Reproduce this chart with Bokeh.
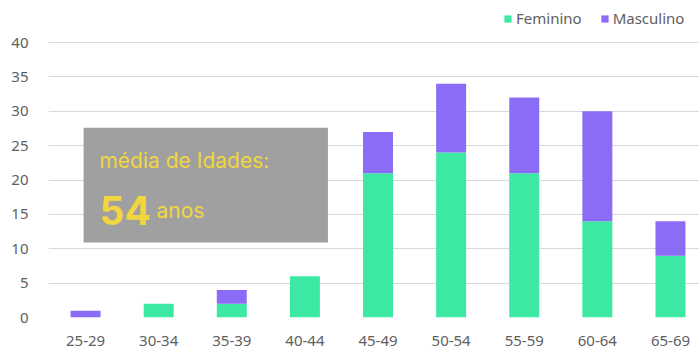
from bokeh.plotting import figure
from bokeh.models import ColumnDataSource, Range1d, Legend, LegendItem, BoxAnnotation, Label, FixedTicker
from bokeh.embed import file_html
from bokeh.resources import INLINE

categories = ["25-29", "30-34", "35-39", "40-44", "45-49", "50-54", "55-59", "60-64", "65-69"]
feminino = [0, 2, 2, 6, 21, 24, 21, 14, 9]
masculino = [1, 0, 2, 0, 6, 10, 11, 16, 5]
y_ticks = [0, 5, 10, 15, 20, 25, 30, 35, 40]
series = ["Feminino", "Masculino"]
avg_title = "média de Idades:"
avg_value = "54"
avg_unit = "anos"

GREEN = "#3de9a2"
PURPLE = "#8b6cf6"
GREY_TEXT = "#606060"
YELLOW = "#f2d640"

x = list(range(len(categories)))
source = ColumnDataSource(dict(x=x, Feminino=feminino, Masculino=masculino))

# frame extends to the top of the canvas so the legend can sit inside it
p = figure(width=699, height=355, x_range=Range1d(-0.507, 8.397), y_range=Range1d(0, 46.11),
           output_backend="svg", toolbar_location=None,
           min_border_left=48, min_border_right=0, min_border_top=0, min_border_bottom=38)
p.outline_line_color = None
p.background_fill_color = "white"
p.border_fill_color = "white"

rs = p.vbar_stack(series, x="x", width=0.41, source=source, color=[GREEN, PURPLE], line_color=None)

p.xgrid.visible = False
p.ygrid.grid_line_color = "#d9d9d9"
p.ygrid.grid_line_width = 1
p.yaxis.ticker = FixedTicker(ticks=y_ticks)
p.xaxis.ticker = FixedTicker(ticks=x)
p.xaxis.major_label_overrides = {i: c for i, c in enumerate(categories)}

for ax in (p.xaxis[0], p.yaxis[0]):
    ax.axis_line_color = None
    ax.major_tick_line_color = None
    ax.minor_tick_line_color = None
    ax.major_label_text_color = GREY_TEXT
    ax.major_label_text_font = "Noto Sans"
    ax.major_label_text_font_size = "15px"
p.xaxis.major_label_standoff = 12
p.yaxis.major_label_standoff = 14

legend = Legend(items=[LegendItem(label=s, renderers=[r]) for s, r in zip(series, rs)],
                orientation="horizontal", location=(455, 289))
legend.border_line_color = None
legend.background_fill_alpha = 0
legend.padding = 0
legend.margin = 0
legend.spacing = 18
legend.glyph_width = 9
legend.glyph_height = 9
legend.label_standoff = 4
legend.label_text_font = "Noto Sans"
legend.label_text_font_size = "15px"
legend.label_text_color = GREY_TEXT
p.add_layout(legend)

box = BoxAnnotation(left=-0.027, right=3.315, bottom=10.9, top=27.6,
                    fill_color="#a0a0a0", fill_alpha=1, line_color=None)
p.add_layout(box)

p.add_layout(Label(x=0.19, y=22.84, text=avg_title, text_font="Inter", text_font_size="21px",
                   text_color=YELLOW, text_baseline="alphabetic"))
p.add_layout(Label(x=0.19, y=15.56, text=avg_value, text_font="Inter", text_font_size="39px",
                   text_font_style="bold", text_color=YELLOW, text_baseline="alphabetic"))
p.add_layout(Label(x=0.97, y=15.56, text=avg_unit, text_font="Inter", text_font_size="21px",
                   text_color=YELLOW, text_baseline="alphabetic"))

open("out.html", "w").write(file_html(p, INLINE))
